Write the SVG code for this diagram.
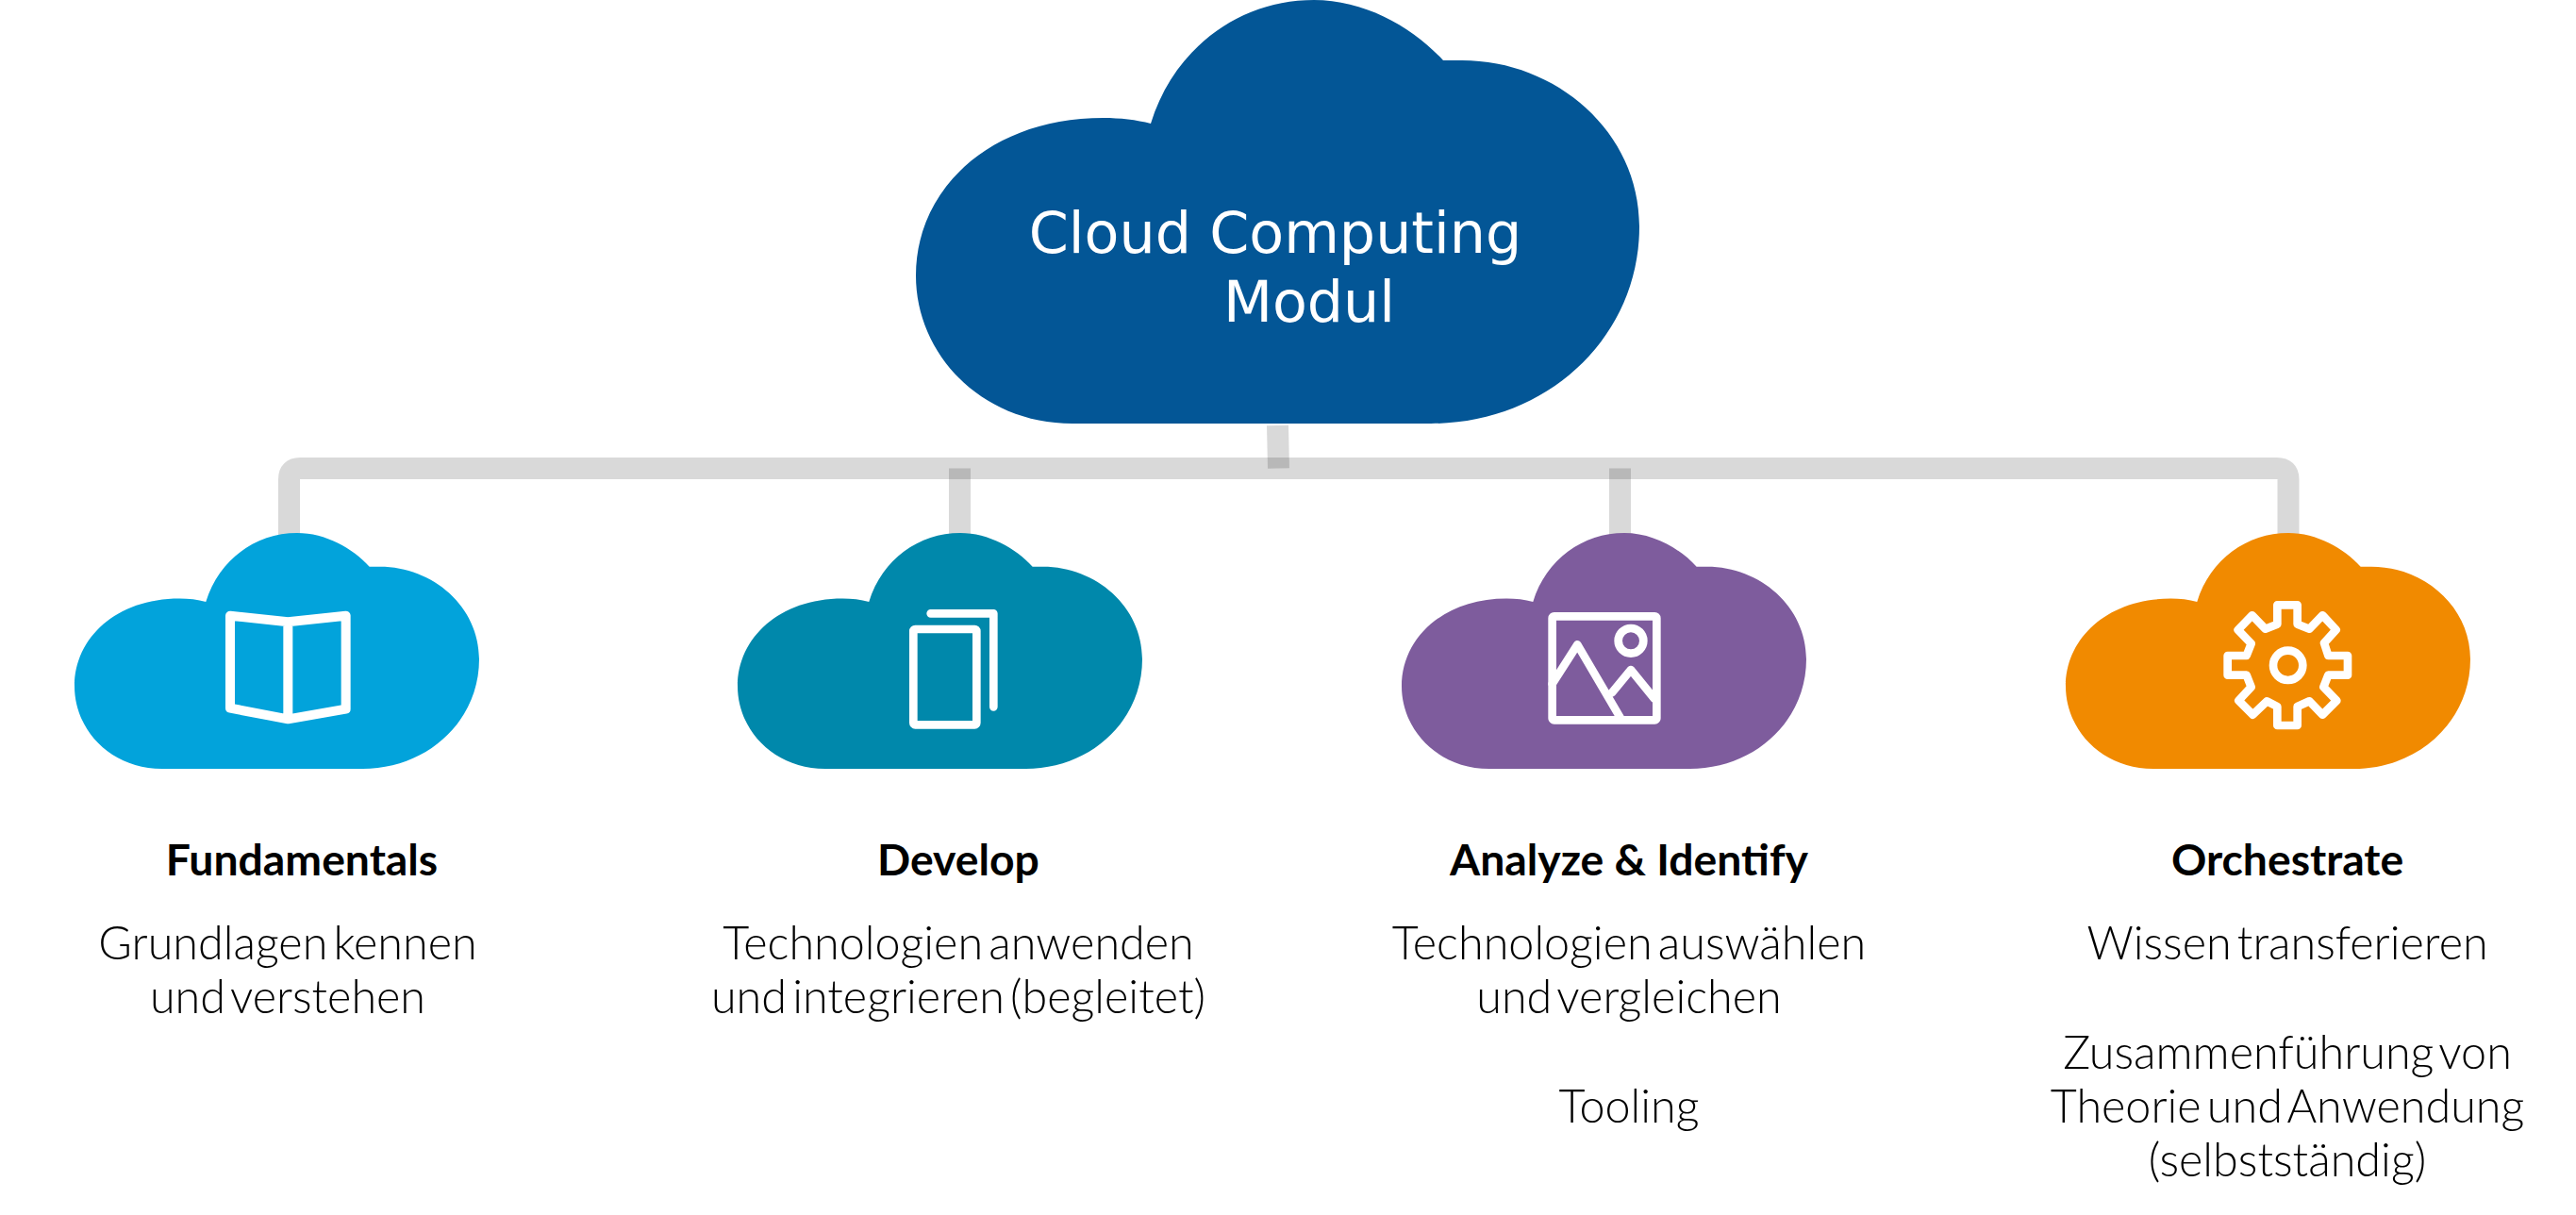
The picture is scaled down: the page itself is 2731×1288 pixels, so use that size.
<svg xmlns="http://www.w3.org/2000/svg" width="2731" height="1288" viewBox="0 0 2731 1288">
<style>
.ic{fill:none;stroke:#fff;stroke-width:26;stroke-linejoin:round;stroke-linecap:round}
.con{fill:none;stroke:#000;stroke-opacity:.15;stroke-width:23}
.h{font-family:"Lato","Liberation Sans",sans-serif;font-weight:700;font-size:46.3px;fill:#000;text-anchor:middle}
.b{font-family:"Lato Light","Lato","Liberation Sans",sans-serif;font-weight:300;font-size:48.5px;word-spacing:-7px;fill:#000;text-anchor:middle}
.t{font-family:"DejaVu Sans",sans-serif;font-size:60.3px;fill:#fff;text-anchor:middle}
</style>
<defs>
<path id="cloud" d="M1220,131 C1245,50 1315,0 1393,0 C1447,0 1498,29 1530,64 L1550,64 C1650,64 1738,140 1738,240 C1738,358 1640,449 1517,449 L1137,449 C1040,449 971,375 971,292 C971,200 1050,125 1170,125 C1187,125 1205,127 1220,131 Z"/>
</defs>
<rect width="2731" height="1288" fill="#fff"/>
<g id="connectors">
<path class="con" d="M306.5,572 V508 Q306.5,496.5 318,496.5 H2414 Q2426,496.5 2426,508 V572"/>
<path class="con" d="M1354.5,451 L1355.5,496.5"/>
<path class="con" d="M1017.5,496.5 V572"/>
<path class="con" d="M1717.5,496.5 V572"/>
</g>
<g id="root">
<use href="#cloud" fill="#035696"/>
<text class="t" x="1352" y="268">Cloud Computing</text>
<text class="t" x="1388" y="341">Modul</text>
</g>
<g id="fundamentals">
<use href="#cloud" fill="#02a3db" transform="translate(79,565) scale(.5593,.5568) translate(-971,0)"/>
<g transform="translate(220,630) scale(.3333)">
<path class="ic" style="stroke-width:30" d="M72,68 L256,88 L440,68 V365 L256,397 L72,362 Z M256,88 V397"/>
</g>
<text class="h" x="320" y="928">Fundamentals</text>
<text class="b" x="305" y="1017">Grundlagen kennen</text>
<text class="b" x="305" y="1074">und verstehen</text>
</g>
<g id="develop">
<use href="#cloud" fill="#0088ab" transform="translate(782,565) scale(.5593,.5568) translate(-971,0)"/>
<g transform="translate(920,620) scale(.3333)">
<rect class="ic" x="145" y="141" width="201" height="304" rx="6"/>
<path class="ic" d="M200,91 H400 V388"/>
</g>
<text class="h" x="1016" y="928">Develop</text>
<text class="b" x="1016" y="1017">Technologien anwenden</text>
<text class="b" x="1016" y="1074">und integrieren (begleitet)</text>
</g>
<g id="analyze">
<use href="#cloud" fill="#7e5c9d" transform="translate(1486,565) scale(.5593,.5568) translate(-971,0)"/>
<g transform="translate(1620,630) scale(.3333)">
<rect class="ic" x="77" y="70" width="332" height="330" rx="6"/>
<circle class="ic" cx="327" cy="148" r="40"/>
<path class="ic" d="M77,285 L157,160 L293,392 M267,313 L327,240 L402,332"/>
</g>
<text class="h" x="1727" y="928">Analyze &amp; Identify</text>
<text class="b" x="1727" y="1017">Technologien auswählen</text>
<text class="b" x="1727" y="1074">und vergleichen</text>
<text class="b" x="1727" y="1190">Tooling</text>
</g>
<g id="orchestrate">
<use href="#cloud" fill="#f18a00" transform="translate(2190,565) scale(.5593,.5568) translate(-971,0)"/>
<g transform="translate(2340,625) scale(.3333)">
<path class="ic" d="M223,49 L287,49 L287,110 L325,125 L367,82 L410,128 L372,170 L385,210 L447,210 L447,272 L385,272 L370,310 L412,353 L367,398 L325,355 L287,372 L287,432 L223,432 L223,372 L190,355 L145,398 L100,353 L140,310 L125,272 L65,272 L65,210 L125,210 L140,172 L98,128 L143,82 L185,125 L223,110 Z"/>
<circle class="ic" cx="257" cy="241" r="47"/>
</g>
<text class="h" x="2425" y="928">Orchestrate</text>
<text class="b" x="2425" y="1017">Wissen transferieren</text>
<text class="b" x="2425" y="1133">Zusammenführung von</text>
<text class="b" x="2425" y="1190">Theorie und Anwendung</text>
<text class="b" x="2425" y="1247">(selbstständig)</text>
</g>
</svg>
